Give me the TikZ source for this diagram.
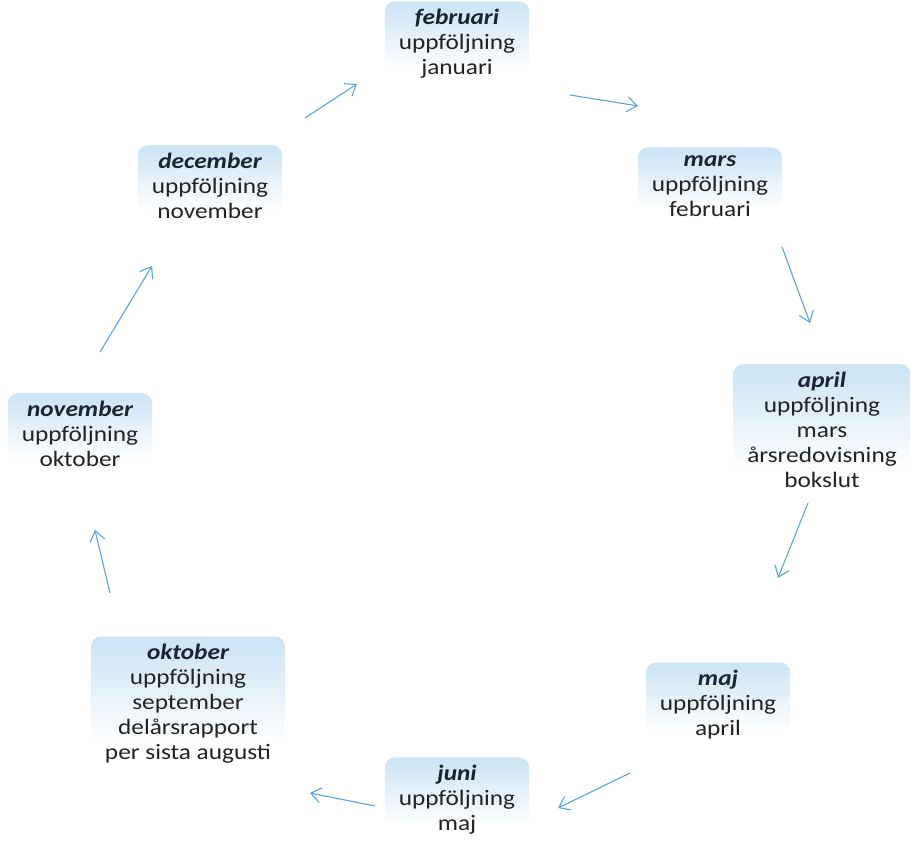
\documentclass[tikz,border=0pt]{standalone}
\usepackage{fontspec}
\setmainfont[FakeStretch=1.15]{Carlito}
\usetikzlibrary{arrows.meta}
\definecolor{glow}{RGB}{206,229,245}
\definecolor{arrowblue}{RGB}{92,164,222}
\definecolor{ink}{RGB}{35,35,35}
\definecolor{titleink}{RGB}{28,36,50}
\pgfdeclareverticalshading{glowfade}{100bp}{color(0bp)=(white); color(35bp)=(white); color(72bp)=(glow); color(100bp)=(glow)}
\tikzset{
  month/.style={align=center, inner xsep=14pt, inner ysep=8pt,
    rounded corners=10pt, shading=glowfade, text=ink,
    font=\fontsize{22}{25}\selectfont},
  arr/.style={draw=arrowblue, line width=1.1pt,
    -{Straight Barb[length=10pt,width=15pt]}}
}
\newcommand{\mth}[1]{{\bfseries\itshape\color{titleink}#1}}
\begin{document}
\begin{tikzpicture}[x=1pt,y=1pt]
\useasboundingbox (0,0) rectangle (911,865);
% months around the year
\node[month] (feb) at (457,821) {\mth{februari}\\uppföljning\\januari};
\node[month] (mar) at (710,679) {\mth{mars}\\uppföljning\\februari};
\node[month] (apr) at (822,435) {\mth{april}\\uppföljning\\mars\\årsredovisning\\bokslut};
\node[month] (maj) at (718,160) {\mth{maj}\\uppföljning\\april};
\node[month] (jun) at (457,65) {\mth{juni}\\uppföljning\\maj};
\node[month] (okt) at (188,161) {\mth{oktober}\\uppföljning\\september\\delårsrapport\\per sista augusti};
\node[month] (nov) at (80,431) {\mth{november}\\uppföljning\\oktober};
\node[month] (dec) at (210,679) {\mth{december}\\uppföljning\\november};
% arrow end points
\coordinate (a1s) at (570,770); \coordinate (a1e) at (638,759);
\coordinate (a2s) at (782,618); \coordinate (a2e) at (810,542);
\coordinate (a3s) at (808,362); \coordinate (a3e) at (778,287);
\coordinate (a4s) at (630,92);  \coordinate (a4e) at (558,57);
\coordinate (a5s) at (375,59);  \coordinate (a5e) at (310,72);
\coordinate (a6s) at (110,272); \coordinate (a6e) at (95,335);
\coordinate (a7s) at (100,513); \coordinate (a7e) at (152,599);
\coordinate (a8s) at (305,747); \coordinate (a8e) at (357,781);
% cycle arrows
\foreach \i in {1,...,8} \draw[arr] (a\i s) -- (a\i e);
\end{tikzpicture}
\end{document}
